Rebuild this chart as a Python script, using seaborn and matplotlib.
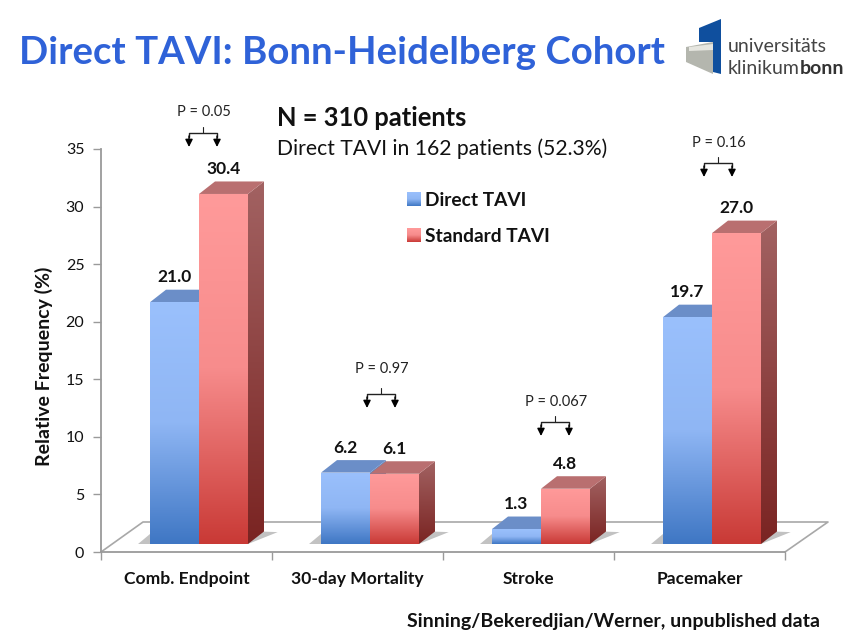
import matplotlib
matplotlib.use('Agg')
import matplotlib.pyplot as plt
import numpy as np
import pandas as pd
import seaborn as sns
from matplotlib.colors import LinearSegmentedColormap
from matplotlib.patches import Polygon

categories = ['Comb. Endpoint', '30-day Mortality', 'Stroke', 'Pacemaker']
direct_tavi = [21.0, 6.2, 1.3, 19.7]
standard_tavi = [30.4, 6.1, 4.8, 27.0]
p_labels = ['P = 0.05', 'P = 0.97', 'P = 0.067', 'P = 0.16']
y_ticks = [0, 5, 10, 15, 20, 25, 30, 35]

df = pd.DataFrame({
    'category': categories * 2,
    'value': direct_tavi + standard_tavi,
    'group': ['Direct TAVI'] * 4 + ['Standard TAVI'] * 4,
})

sns.set_theme(style='white')
plt.rcParams['font.family'] = ['Lato', 'DejaVu Sans']

W, H = 853, 639
fig = plt.figure(figsize=(W / 100, H / 100), dpi=100)


def axes_px(x0, y_top, x1, y_bottom):
    return fig.add_axes([x0 / W, 1 - y_bottom / H, (x1 - x0) / W, (y_bottom - y_top) / H])


# pixel overlay for the slide furniture
px = axes_px(0, 0, W, H)
px.set_xlim(0, W)
px.set_ylim(H, 0)
px.axis('off')

# axis frame
ax = axes_px(101, 149, 785, 552)
ax.patch.set_alpha(0)
ax.set_xlim(-0.5, 3.5)
ax.set_ylim(0, 35)
for s in ['top', 'right']:
    ax.spines[s].set_visible(False)
for s in ['left', 'bottom']:
    ax.spines[s].set_color('#9a9a9a')
    ax.spines[s].set_linewidth(1.3)
ax.set_yticks(y_ticks)
ax.tick_params(axis='y', left=True, length=6, width=1, color='#9a9a9a', labelsize=11.5, pad=6, labelcolor='#111111')
ax.set_xticks(np.arange(-0.5, 4))
ax.set_xticklabels([])
ax.tick_params(axis='x', which='major', bottom=True, length=6, width=1, color='#9a9a9a')
ax.set_xticks(range(4), minor=True)
ax.set_xticklabels(categories, minor=True, fontsize=12.6, fontweight='bold', color='#111111')
ax.tick_params(axis='x', which='minor', bottom=False, length=0, pad=14)
ax.set_ylabel('Relative Frequency (%)', fontsize=14, fontweight='bold', color='#111111', labelpad=9, y=0.46)

# floor
px.plot([101, 143, 828, 785], [552, 522, 522, 552], color='#a8a8a8', lw=1.2, zorder=1)

# bars, shifted onto the floor
bx = axes_px(113.5, 141, 797.5, 544)
bx.patch.set_alpha(0)
sns.barplot(data=df, x='category', y='value', hue='group', order=categories, width=0.573, gap=0,
            palette=['#6f9fe0', '#e06a68'], legend=False, ax=bx)
bx.set_xlim(-0.5, 3.5)
bx.set_ylim(0, 35)
bx.axis('off')

dx = 16 / 171
dy = 12.5 / 11.51
ramps = [
    dict(front=['#9ac0fc', '#8fb6f4', '#3f77c4'], top='#6b8ec8', side=['#6a8cc0', '#2f5c98']),
    dict(front=['#ff9a9a', '#f78c8c', '#c93a36'], top='#b96f70', side=['#a26262', '#7a2422']),
]
grad = np.linspace(0, 1, 128).reshape(-1, 1)
n = len(categories)
for i, bar in enumerate(bx.patches[:2 * n]):
    ramp = ramps[i // n]
    x0, w, h = bar.get_x(), bar.get_width(), bar.get_height()
    z = 3 + i // n * 3
    bar.set_visible(False)
    front_cm = LinearSegmentedColormap.from_list('f', ramp['front'])
    side_cm = LinearSegmentedColormap.from_list('s', ramp['side'])
    front = bx.imshow(grad, extent=(x0, x0 + w, 0, h), aspect='auto', cmap=front_cm, origin='upper', zorder=z + 1)
    front.set_clip_path(Polygon([(x0, 0), (x0 + w, 0), (x0 + w, h), (x0, h)], transform=bx.transData))
    side_pts = [(x0 + w, 0), (x0 + w + dx, dy), (x0 + w + dx, h + dy), (x0 + w, h)]
    side = bx.imshow(grad, extent=(x0 + w, x0 + w + dx, 0, h + dy), aspect='auto', cmap=side_cm, origin='upper', zorder=z)
    side.set_clip_path(Polygon(side_pts, transform=bx.transData))
    bx.add_patch(Polygon([(x0, h), (x0 + w, h), (x0 + w + dx, h + dy), (x0 + dx, h + dy)],
                         facecolor=ramp['top'], edgecolor='none', zorder=z))
    # shadow on the floor
    if i // n == 1:
        bx.add_patch(Polygon([(x0 - w - 0.07, 0), (x0 + w, 0), (x0 + w + dx + 0.08, dy * 0.95),
                              (x0 + w + dx - 0.02, dy), (x0 - w, dy * 0.8)],
                             facecolor='#a8a8a8', edgecolor='none', alpha=0.7, zorder=2))
    bx.annotate(f'{h:.1f}', (x0 + w / 2, h), xytext=(0, 18), textcoords='offset points', ha='center', va='center',
                fontsize=12.5, fontweight='bold', color='#111111', zorder=10)
bx.set_xlim(-0.5, 3.5)
bx.set_ylim(0, 35)

# P value brackets: label y, bracket top y
bracket_xy = [(203, 112, 133), (381, 369, 394), (555, 402, 422), (718, 143, 163)]
for (cx, ty, cy), label in zip(bracket_xy, p_labels):
    px.text(cx + 1, ty, label, ha='center', va='center', fontsize=10.5, color='#222222')
    px.plot([cx, cx], [cy - 6, cy], color='#222222', lw=0.8)
    px.plot([cx - 14, cx - 14, cx + 14, cx + 14], [cy + 4, cy, cy, cy + 4], color='#222222', lw=1)
    for sx in (-14, 14):
        px.annotate('', (cx + sx, cy + 14), (cx + sx, cy + 3),
                    arrowprops=dict(arrowstyle='-|>', color='black', lw=1, mutation_scale=11, shrinkA=0, shrinkB=0))

# texts
px.text(19, 53, 'Direct TAVI: Bonn-Heidelberg Cohort', fontsize=27.6, fontweight='bold', color='#2f62d8', va='center')
px.text(277, 118, 'N = 310 patients', fontsize=18.4, fontweight='bold', color='#111111', va='center')
px.text(277, 149, 'Direct TAVI in 162 patients (52.3%)', fontsize=15.2, color='#111111', va='center')
px.text(820, 622, 'Sinning/Bekeredjian/Werner, unpublished data', fontsize=14, fontweight='bold', color='#111111', ha='right', va='center')

# legend
legend_y = [199, 235]
for yy, name, ramp in zip(legend_y, ['Direct TAVI', 'Standard TAVI'], ramps):
    cm = LinearSegmentedColormap.from_list('l', ramp['front'])
    px.imshow(grad, extent=(407, 421, yy + 7, yy - 7), aspect='auto', cmap=cm, origin='upper')
    px.text(425, yy + 1, name, fontsize=13.8, fontweight='bold', color='#111111', va='center')

# logo
px.add_patch(Polygon([(686, 47), (713, 42), (713, 74), (686, 62)], facecolor='#b4b6ae', edgecolor='none'))
px.add_patch(Polygon([(689, 47), (713, 44), (713, 50), (689, 51)], facecolor='#e6e6e0', edgecolor='none'))
px.add_patch(Polygon([(699, 28), (721, 19), (721, 74), (713, 72), (713, 42), (699, 42)], facecolor='#0f4f9e', edgecolor='none'))
px.text(728, 47, 'universitäts', fontsize=14, color='#444444', va='center')
t = px.text(728, 68, 'klinikum', fontsize=14, color='#444444', va='center')
px.annotate('bonn', xy=(1, 0.5), xycoords=t, fontsize=14, fontweight='bold', color='#333333', va='center')

px.set_xlim(0, W)
px.set_ylim(H, 0)
fig.savefig('out.png', dpi=100, facecolor='white')
